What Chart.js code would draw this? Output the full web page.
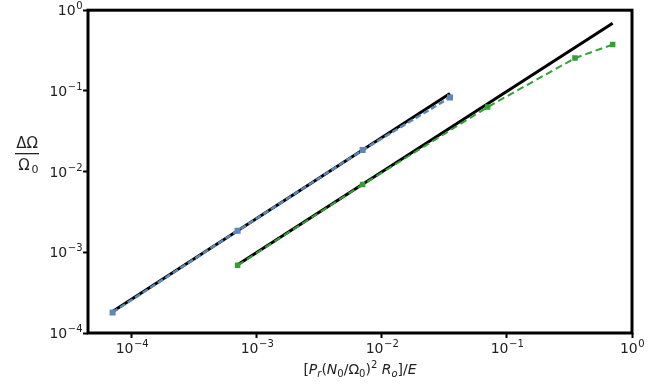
<!DOCTYPE html>
<html>
<head>
<meta charset="utf-8">
<script src="https://cdn.jsdelivr.net/npm/chart.js@4"></script>
<style>
  html, body { margin: 0; padding: 0; background: #fff; }
  #wrap { width: 666px; height: 388px; }
</style>
</head>
<body>
<div id="wrap"><canvas id="chart" width="666" height="388"></canvas></div>
<script>
// values
const blueX = [7e-5, 7e-4, 7e-3, 3.5e-2];
const blueY = [1.8e-4, 1.85e-3, 1.85e-2, 8.3e-2];
const greenX = [7e-4, 7e-3, 7e-2, 3.5e-1, 7e-1];
const greenY = [6.9e-4, 6.9e-3, 6.3e-2, 2.55e-1, 3.75e-1];
const fitBlueX = [7e-5, 3.5e-2];
const fitBlueY = [1.85e-4, 9.3e-2];
const fitGreenX = [7e-4, 7e-1];
const fitGreenY = [7e-4, 0.69];
const xTicks = [1e-4, 1e-3, 1e-2, 1e-1, 1];
const yTicks = [1e-4, 1e-3, 1e-2, 1e-1, 1];

function pts(xs, ys) { return xs.map((x, i) => ({ x: x, y: ys[i] })); }
function expOf(v) {
  const e = Math.round(Math.log10(v));
  return (e < 0 ? '\u2212' + (-e) : String(e));
}

// pieces of the x label: text, italic?, shift (0 normal, 1 sub, -1 sup)
const xLabel = [
  ['[', false, 0], ['P', true, 0], ['r', true, 1], ['(', false, 0], ['N', true, 0], ['0', false, 1],
  ['/', false, 0], ['Ω', false, 0], ['0', false, 1], [')', false, 0], ['2', false, -1],
  [' ', false, 0], ['R', true, 0], ['o', true, 1], [']/', false, 0], ['E', true, 0]
];

function drawRich(ctx, parts, cx, base) {
  const fontFor = p => (p[1] ? 'italic ' : '') + (p[2] ? '10px' : '14px') + ' "DejaVu Sans"';
  let w = 0;
  parts.forEach(p => { ctx.font = fontFor(p); w += ctx.measureText(p[0]).width; });
  let x = cx - w / 2;
  ctx.textAlign = 'left';
  parts.forEach(p => {
    ctx.font = fontFor(p);
    ctx.fillText(p[0], x, base + (p[2] === 1 ? 3 : p[2] === -1 ? -6 : 0));
    x += ctx.measureText(p[0]).width;
  });
}

// "10" with a raised exponent; anchor 'center' or 'right'
function drawPow(ctx, v, x, base, anchor) {
  const e = expOf(v);
  ctx.font = '14px "DejaVu Sans"';
  const w1 = ctx.measureText('10').width;
  ctx.font = '10px "DejaVu Sans"';
  const w2 = ctx.measureText(e).width;
  const left = anchor === 'right' ? x - w1 - w2 : x - (w1 + w2) / 2;
  ctx.textAlign = 'left';
  ctx.font = '14px "DejaVu Sans"';
  ctx.fillText('10', left, base);
  ctx.font = '10px "DejaVu Sans"';
  ctx.fillText(e, left + w1 + 0.5, base - 6);
}

const frame = {
  id: 'frame',
  afterDraw(chart) {
    const { ctx, chartArea: a, scales } = chart;
    ctx.save();
    ctx.strokeStyle = '#000';
    ctx.lineWidth = 3;
    ctx.strokeRect(a.left, a.top, a.right - a.left, a.bottom - a.top);
    ctx.fillStyle = '#222';
    ctx.textBaseline = 'alphabetic';
    xTicks.forEach(v => drawPow(ctx, v, scales.x.getPixelForValue(v), a.bottom + 20, 'center'));
    yTicks.forEach(v => drawPow(ctx, v, a.left - 6, scales.y.getPixelForValue(v) + 5, 'right'));
    // y label as a fraction
    ctx.font = '15px "DejaVu Sans"';
    ctx.textAlign = 'center';
    ctx.fillText('ΔΩ', 27, 148);
    ctx.fillRect(15, 153, 24, 1.3);
    ctx.fillText('Ω', 24, 170);
    ctx.font = '11px "DejaVu Sans"';
    ctx.fillText('0', 35, 173);
    drawRich(ctx, xLabel, 360, 374);
    ctx.restore();
  }
};

const tickSet = vals => axis => { axis.ticks = vals.map(v => ({ value: v })); };

new Chart(document.getElementById('chart'), {
  type: 'scatter',
  data: {
    datasets: [
      { data: pts(fitBlueX, fitBlueY), showLine: true, borderColor: '#000', borderWidth: 3, pointRadius: 0, order: 4 },
      { data: pts(blueX, blueY), showLine: true, borderColor: '#5b88b8', backgroundColor: '#5b88b8', borderWidth: 2.5,
        borderDash: [6, 3], pointStyle: 'rect', pointRadius: 2.5, order: 3 },
      { data: pts(fitGreenX, fitGreenY), showLine: true, borderColor: '#000', borderWidth: 3, pointRadius: 0, order: 2 },
      { data: pts(greenX, greenY), showLine: true, borderColor: '#33a033', backgroundColor: '#33a033', borderWidth: 2,
        borderDash: [7, 4], pointStyle: 'rect', pointRadius: 2.5, order: 1 }
    ]
  },
  options: {
    responsive: false,
    animation: false,
    layout: { padding: { top: 10, right: 34, left: 0, bottom: 0 } },
    plugins: { legend: { display: false }, tooltip: { enabled: false } },
    scales: {
      x: {
        type: 'logarithmic', min: 4.45e-5, max: 1,
        afterBuildTicks: tickSet(xTicks),
        afterFit: s => { s.height = 55; },
        grid: { drawOnChartArea: false, drawTicks: true, tickLength: 5, tickWidth: 2, color: '#000' },
        border: { display: false },
        ticks: { callback: () => '', maxRotation: 0 }
      },
      y: {
        type: 'logarithmic', min: 1e-4, max: 1,
        afterBuildTicks: tickSet(yTicks),
        afterFit: s => { s.width = 88; },
        grid: { drawOnChartArea: false, drawTicks: true, tickLength: 5, tickWidth: 2, color: '#000' },
        border: { display: false },
        ticks: { callback: () => '' }
      }
    }
  },
  plugins: [frame]
});
</script>
</body>
</html>
